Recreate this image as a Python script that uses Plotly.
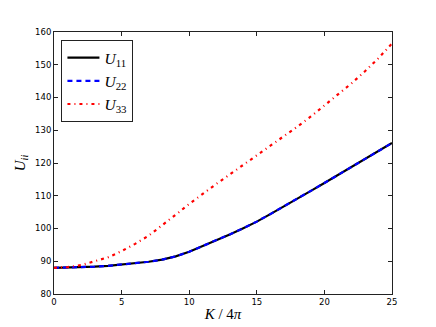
import plotly.graph_objects as go

# values
K = list(range(0, 26))
U11 = [88.0, 88.05, 88.15, 88.35, 88.6, 88.95, 89.35, 89.85, 90.5, 91.5,
       92.9, 94.6, 96.4, 98.2, 100.1, 102.1, 104.4, 106.7, 109.1, 111.5,
       113.9, 116.3, 118.8, 121.2, 123.6, 126.1]
U22 = list(U11)
U33 = [88.0, 88.2, 88.8, 89.9, 91.2, 93.1, 95.3, 97.8, 100.9, 104.2,
       107.5, 110.6, 113.6, 116.5, 119.4, 122.4, 125.4, 128.3, 131.1, 134.2,
       137.5, 140.8, 144.3, 148.0, 152.0, 156.5]

xticks = [0, 5, 10, 15, 20, 25]
yticks = [80, 90, 100, 110, 120, 130, 140, 150, 160]

fig = go.Figure()
fig.add_trace(go.Scatter(x=K, y=U11, mode="lines", name="<i>U</i><sub>11</sub>",
                         line=dict(color="black", width=2.2)))
fig.add_trace(go.Scatter(x=K, y=U22, mode="lines", name="<i>U</i><sub>22</sub>",
                         line=dict(color="blue", width=2.2, dash="5px,4px")))
fig.add_trace(go.Scatter(x=K, y=U33, mode="lines", name="<i>U</i><sub>33</sub>",
                         line=dict(color="red", width=2.2, dash="3px,4px,1px,4px")))

axis_style = dict(
    showgrid=False, zeroline=False, automargin=False,
    showline=True, linecolor="#222", linewidth=1, mirror="allticks",
    ticks="inside", ticklen=4, tickcolor="#222", tickwidth=1,
    tickfont=dict(family="DejaVu Sans", size=8.5, color="black"),
)

fig.update_xaxes(range=[0, 25], tickvals=xticks, **axis_style,
                 title=dict(text="<i>K</i> / 4<i>π</i>", standoff=2,
                            font=dict(family="Liberation Serif", size=15, color="black")))
fig.update_yaxes(range=[80, 160], tickvals=yticks, **axis_style,
                 title=dict(text="<i>U</i><sub><i>ii</i></sub>", standoff=5,
                            font=dict(family="Liberation Serif", size=15, color="black")))

# the page body adds an 8px offset, so the figure is 8px smaller on each axis
fig.update_layout(
    width=428, height=319,
    margin=dict(l=46, r=44, t=24, b=33),
    paper_bgcolor="white", plot_bgcolor="white",
    showlegend=True,
    legend=dict(x=0.022, y=0.969, xanchor="left", yanchor="top",
                bordercolor="#222", borderwidth=1, bgcolor="white",
                font=dict(family="Liberation Serif", size=15.5, color="black"),
                itemwidth=32),
)

fig.write_html("out.html")
